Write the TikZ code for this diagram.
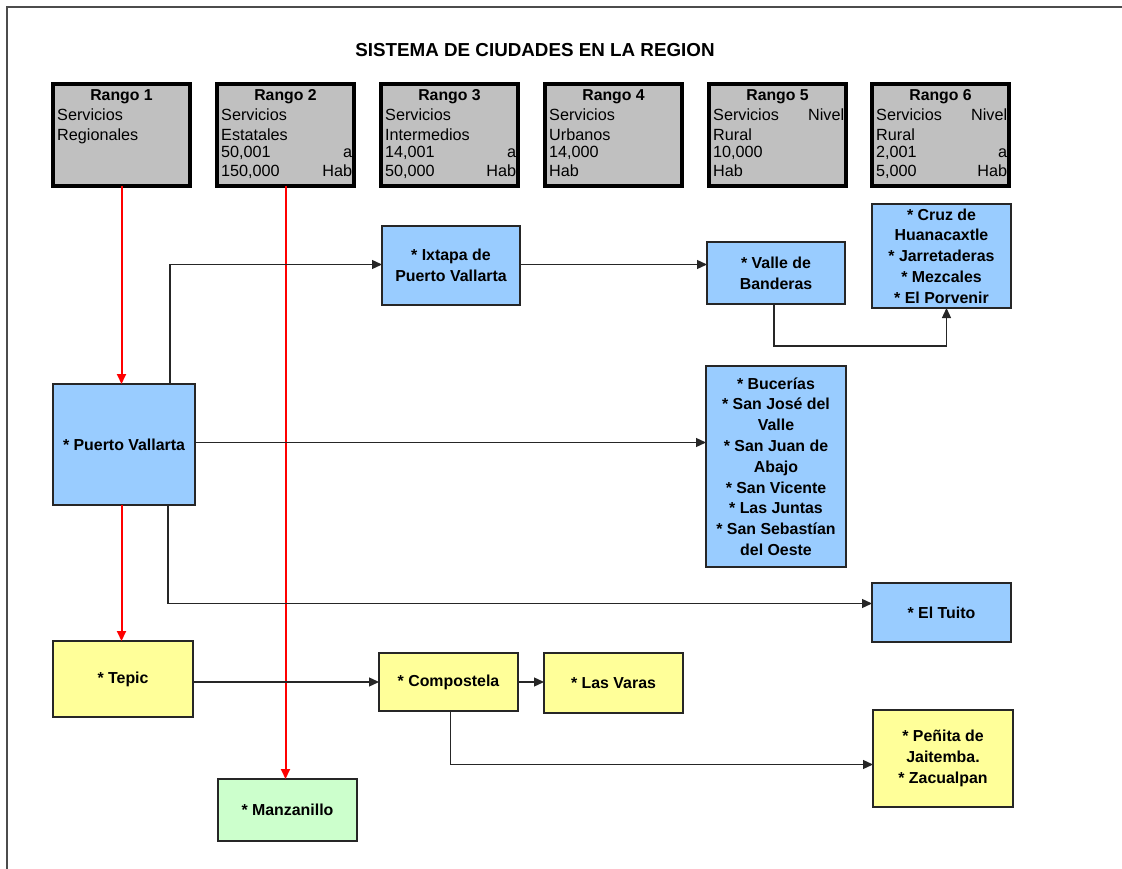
\documentclass[tikz,border=0pt]{standalone}
\usepackage{fontspec}
\setmainfont{Liberation Sans}
\usetikzlibrary{arrows.meta}
\definecolor{hgrey}{HTML}{C0C0C0}
\definecolor{lblue}{HTML}{99CCFF}
\definecolor{lyellow}{HTML}{FFFF99}
\definecolor{lgreen}{HTML}{CCFFCC}
\newcommand{\hdrbox}[7]{%
  \node[hdr] (#1) at (#2,84) {};
  \node[hdt] (#1r) at (#2+68.5,100.5) {#3};
  \node[hl] (#1a) at (#2+4,120.5) {#4};
  \node[hl] (#1b) at (#2+4,140.5) {#5};
  \node[hl] (#1c) at (#2+4,158) {#6};
  \node[hl] (#1d) at (#2+4,177) {#7};
}
\begin{document}
\begin{tikzpicture}[x=1pt,y=-1pt,
  hdr/.style={draw=black,line width=4pt,fill=hgrey,minimum width=137pt,minimum height=102pt,inner sep=0pt,outer sep=0pt,anchor=north west},
  hdt/.style={anchor=base,inner sep=0pt,font=\bfseries\fontsize{15.8}{18}\selectfont},
  hl/.style={anchor=base west,inner sep=0pt,text width=131pt,font=\fontsize{16.2}{18}\selectfont},
  box/.style={draw=black!85,line width=2.5pt,inner sep=0pt,outer sep=0pt,anchor=north west,align=center,font=\bfseries\fontsize{15.9}{20.8}\selectfont},
  bl/.style={box,fill=lblue},
  yl/.style={box,fill=lyellow},
  gr/.style={box,fill=lgreen},
  conn/.style={draw=black!85,line width=1.3pt,-{Triangle[length=10pt,width=9pt]}},
  rconn/.style={draw=red,line width=2pt,-{Triangle[length=10pt,width=9pt]}}
]
\useasboundingbox (0,0) rectangle (1122,869);
\draw[line width=1.5pt,black!70] (7,869) -- (7,7) -- (1122,7);
\node[font=\bfseries\fontsize{18.8}{22}\selectfont] (title) at (535,50) {SISTEMA DE CIUDADES EN LA REGION};

\hdrbox{h1}{53}{Rango 1}{Servicios}{Regionales}{}{}
\hdrbox{h2}{217}{Rango 2}{Servicios}{Estatales}{50,001 \hfill a}{150,000 \hfill Hab}
\hdrbox{h3}{381}{Rango 3}{Servicios}{Intermedios}{14,001 \hfill a}{50,000 \hfill Hab}
\hdrbox{h4}{545}{Rango 4}{Servicios}{Urbanos}{14,000}{Hab}
\hdrbox{h5}{709}{Rango 5}{Servicios \hfill Nivel}{Rural}{10,000}{Hab}
\hdrbox{h6}{872}{Rango 6}{Servicios \hfill Nivel}{Rural}{2,001 \hfill a}{5,000 \hfill Hab}

\node[bl,minimum width=138pt,minimum height=79pt] (ix) at (382,226) {* Ixtapa de\\Puerto Vallarta};
\node[bl,minimum width=138pt,minimum height=62pt] (vb) at (707,242) {* Valle de\\Banderas};
\node[bl,minimum width=139pt,minimum height=104pt] (cr) at (872,204) {* Cruz de\\Huanacaxtle\\* Jarretaderas\\* Mezcales\\* El Porvenir};
\node[bl,minimum width=142pt,minimum height=121pt] (pv) at (53,384) {* Puerto Vallarta};
\node[bl,minimum width=140pt,minimum height=201pt] (bu) at (706,366) {* Bucerías\\* San José del\\Valle\\* San Juan de\\Abajo\\* San Vicente\\* Las Juntas\\* San Sebastían\\del Oeste};
\node[bl,minimum width=139pt,minimum height=59pt] (et) at (872,583) {* El Tuito};
\node[yl,minimum width=140pt,minimum height=76pt] (tp) at (53,641) {* Tepic};
\node[yl,minimum width=139pt,minimum height=58pt] (cp) at (379,653) {* Compostela};
\node[yl,minimum width=139pt,minimum height=60pt] (lv) at (544,653) {* Las Varas};
\node[yl,minimum width=140pt,minimum height=97pt] (pn) at (873,710) {* Peñita de\\Jaitemba.\\* Zacualpan};
\node[gr,minimum width=139pt,minimum height=62pt] (mz) at (218,779) {* Manzanillo};

\draw[rconn] (h1.south) -- (h1.south |- pv.north);
\draw[rconn] (h2.south) -- (h2.south |- mz.north);
\draw[rconn] (pv.south -| h1.south) -- (tp.north -| h1.south);

\draw[conn] ([xshift=117pt]pv.north west) |- ([yshift=1pt]ix.west);
\draw[conn] ([yshift=1pt]ix.east) -- ([yshift=1pt]ix.east -| vb.west);
\draw[conn] ([xshift=-2pt]vb.south) -- ++(0,42) -| ([xshift=5pt]cr.south);
\draw[conn] ([yshift=2pt]pv.east) -- ([yshift=2pt]pv.east -| bu.west);
\draw[conn] ([xshift=115pt]pv.south west) |- ([yshift=9pt]et.west);
\draw[conn] (cp.west -| tp.east) -- (cp.west);
\draw[conn] (cp.east) -- (cp.east -| lv.west);
\draw[conn] ([xshift=2pt]cp.south) |- ([yshift=-6pt]pn.west);
\end{tikzpicture}
\end{document}
